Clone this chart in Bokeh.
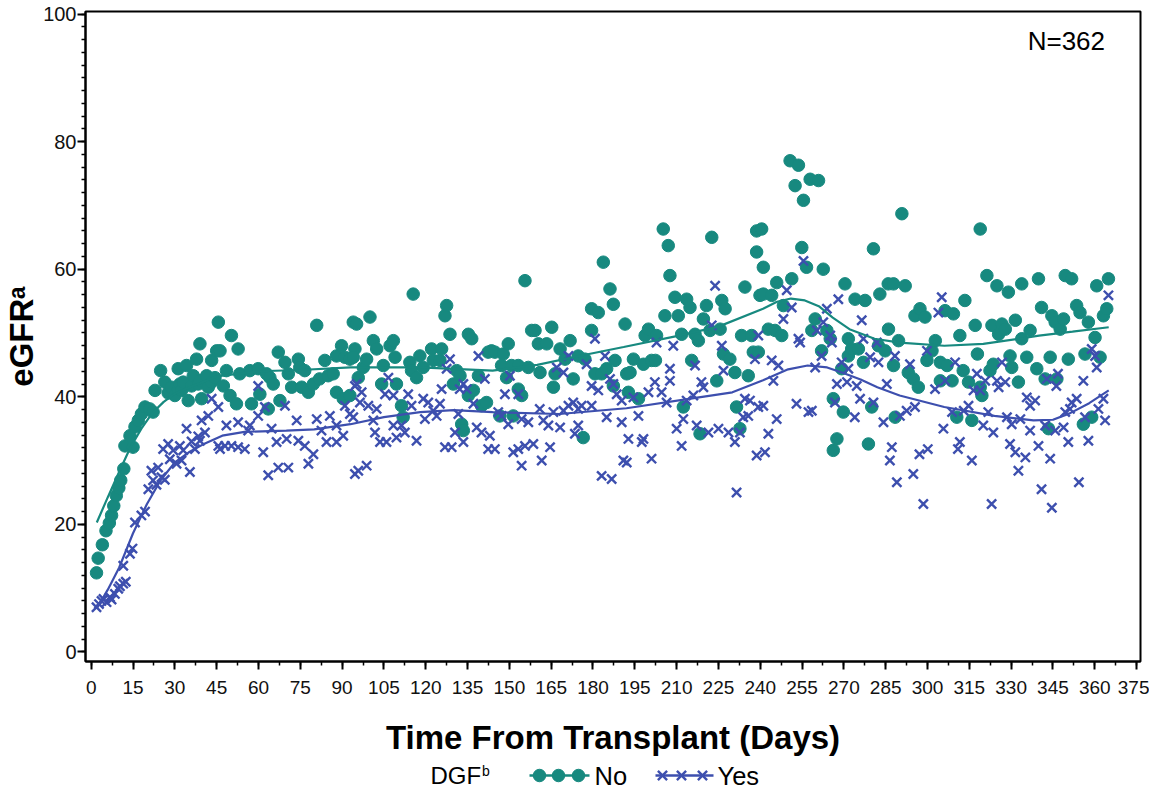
import numpy as np
from bokeh.plotting import figure
from bokeh.models import Range1d, FixedTicker, Label
from bokeh.layouts import column
from bokeh.embed import file_html
from bokeh.resources import INLINE
from bokeh.core.properties import value

# ---------------- data ----------------
no_pts = [
    (1.9,12.4),(2.5,14.7),(4.0,16.8),(5.3,19.0),(6.5,20.2),(7.3,21.4),(8.1,22.9),(9.0,24.5),(9.9,25.7),(10.6,26.9),
    (11.7,28.7),(12.1,32.3),(13.9,33.9),(15.0,32.1),(15.7,35.3),(16.9,36.3),(18.0,37.3),(19.3,38.4),(21.0,38.1),(22.2,37.6),
    (22.9,41.0),(24.9,44.1),(26.4,42.3),(27.6,40.6),(28.8,41.5),(30.0,40.2),(31.2,44.4),(31.2,41.2),(31.8,42.0),(32.4,41.0),
    (33.0,42.3),(34.2,44.9),(34.8,39.4),(36.0,41.7),(36.6,43.3),(37.8,45.9),(38.4,42.0),(39.0,48.3),(39.0,42.5),(39.6,39.7),
    (41.4,43.3),(42.0,41.5),(43.2,45.7),(43.2,42.3),(44.4,43.0),(45.0,47.2),(45.6,51.7),
    (46.2,47.2),(47.4,41.7),(48.5,44.1),(49.8,40.2),(50.3,49.6),(52.1,38.9),(52.7,47.5),(53.3,43.6),(56.9,44.1),(57.5,38.9),
    (59.9,44.4),(60.5,40.4),(62.9,43.6),(63.5,38.1),(64.1,43.0),(65.3,42.0),(67.1,47.0),(67.7,39.4),(69.5,45.4),(70.7,43.6),
    (71.9,41.5),(74.3,45.9),(74.8,44.6),(75.5,41.5),(76.6,44.1),(77.9,40.7),(79.7,42.0),(80.9,51.2),(81.9,42.8),(83.8,45.7),
    (85.0,43.3),(86.8,43.6),(88.0,46.4),(88.0,40.7),(89.8,48.0),(90.4,39.7),(91.0,46.2),(92.8,45.9),(92.8,40.2),(94.0,51.7),
    (94.6,47.5),(94.0,46.2),(95.2,51.4),(95.8,43.0),(97.6,44.6),(98.8,45.9),(100.0,52.5),(101.2,48.8),(102.4,47.5),(104.2,42.0),
    (104.8,44.9),(107.2,48.0),(108.4,48.8),(109.0,46.2),(109.5,42.0),(111.3,38.6),(111.9,36.8),(114.3,45.4),(114.9,44.1),(115.5,56.1),
    (116.7,43.0),(117.9,46.4),(119.1,44.6),(122.1,47.5),(122.7,45.7),(125.1,45.7),(125.7,47.5),(126.9,52.7),(127.5,54.3),(128.7,49.8),
    (129.9,42.0),(131.1,44.1),(132.3,43.3),(132.9,35.7),(133.5,34.7),(135.3,49.8),(136.5,49.1),(135.3,40.2),(137.1,41.0),(138.9,43.3),
    (140.0,38.6),(141.8,39.1),(143.6,47.2),(142.4,47.0),(144.8,47.0),(146.6,37.0),(147.2,44.9),(147.8,46.7),(149.0,43.0),(149.6,48.3),
    (150.8,44.9),(151.4,37.0),(153.2,44.9),(153.2,41.2),(154.4,40.2),(155.6,58.2),(156.8,44.6),(158.0,50.4),(159.2,50.4),(160.4,48.3),
    (161.0,43.8),(163.4,48.3),(165.2,50.9),(165.8,41.5),(166.4,43.6),(168.2,47.5),(170.0,45.9),(171.8,48.8),(172.9,42.8),(174.7,46.4),
    (176.5,33.6),(177.1,45.9),(179.5,50.4),(179.5,53.8),(180.7,43.6),(181.9,53.2),(183.1,43.6),(183.7,61.1),(184.9,44.4),(186.1,56.9),
    (187.3,54.5),(187.3,41.7),(187.9,45.7),(191.5,51.4),(192.1,43.6),
    (192.7,40.7),(193.3,43.8),(194.5,45.9),(196.3,39.7),(198.1,45.1),(198.7,49.6),(199.9,50.6),(201.0,45.7),(202.4,45.7),(202.8,49.6),
    (205.2,66.3),(205.8,52.7),(207.0,63.7),(207.6,59.0),(209.4,55.6),(210.6,52.7),(211.8,49.8),(212.4,38.4),(213.6,55.3),(214.8,54.0),
    (215.4,45.7),(216.6,49.8),(217.8,48.8),(218.4,34.2),(219.6,52.2),(220.7,54.3),(222.0,50.4),(222.6,65.0),(224.4,42.5),(225.6,50.6),
    (226.2,55.1),(226.8,46.7),(227.4,53.8),(229.1,45.9),(230.9,43.8),(231.5,38.4),(232.7,35.0),(233.3,49.6),(234.5,57.2),(235.7,43.3),
    (236.9,49.6),(237.5,47.0),(238.7,66.0),(238.7,62.7),(239.9,55.9),(241.1,60.3),
    (239.3,47.0),(240.5,66.3),(241.1,56.1),(242.9,50.6),(244.1,55.9),(245.3,50.4),(245.9,57.9),(247.7,49.6),(248.3,54.3),(250.7,77.0),
    (251.3,58.5),(252.5,73.1),(253.7,76.3),(254.9,63.4),(255.5,70.8),(256.6,60.3),(257.9,74.1),(258.5,50.4),(259.7,52.2),(260.9,73.9),
    (262.0,47.2),(262.6,60.0),(263.9,50.4),(265.1,49.1),(266.2,39.7),(266.2,31.6),(267.5,33.4),(269.2,44.4),(269.8,37.6),(270.4,57.7),
    (271.6,49.1),(271.6,46.4),(272.8,47.5),(274.0,55.3),(275.2,47.5),(277.0,45.4),(277.6,55.1),(278.8,32.6),(280.0,38.4),(280.6,63.2),
    (282.4,48.0),(282.9,56.1),(284.8,47.2),(285.9,57.7),(286.0,50.6),
    (287.8,57.7),(292.0,57.4),(290.8,68.7),(289.6,48.8),(287.8,44.9),(288.4,36.8),(293.1,43.8),(294.9,42.8),(295.5,52.7),(296.7,41.5),
    (297.3,53.8),(299.1,52.5),(299.8,45.7),(301.6,47.2),(302.8,48.8),(304.6,45.4),(304.6,42.5),(306.3,53.5),(307.0,44.9),(308.8,42.5),
    (309.3,53.0),(310.5,36.8),(311.6,49.6),(312.8,44.1),(313.4,55.1),(314.7,42.3),(315.9,36.3),(317.1,51.2),(317.9,46.7),(318.9,66.3),
    (318.9,41.5),(319.5,40.2),(321.3,59.0),(322.4,44.1),(323.1,51.2),(323.6,45.1),(324.9,57.4),(325.5,49.8),(326.7,51.4),(327.9,50.6),
    (329.0,56.4),(329.6,46.4),(330.2,44.6),(331.5,52.0),(332.6,42.3),(333.8,57.7),(333.8,49.1),(335.6,46.2),(336.8,50.4),
    (339.2,44.4),(339.8,58.5),(340.9,54.0),(342.2,42.8),(343.4,35.0),(344.0,46.2),(344.6,52.7),(345.8,51.7),(346.4,42.8),(347.6,50.6),
    (348.8,52.2),(349.4,59.0),(350.5,45.9),(351.7,58.5),(353.5,54.3),(354.7,53.2),(355.9,35.7),(356.5,46.7),(357.7,51.7),(358.9,36.8),
    (360.1,49.3),(360.7,57.4),(361.9,46.2),(363.1,52.7),(364.3,53.8),(364.9,58.5),
]

yes_pts = [
    (1.9,7.0),(2.8,7.5),(3.7,8.0),(4.4,8.3),(5.5,7.8),(6.7,8.6),(7.3,8.2),(8.5,9.1),(9.7,9.9),(10.3,10.3),
    (11.5,10.7),(11.5,13.5),(12.4,11.0),(13.9,15.4),(14.8,16.2),(15.7,20.3),(18.0,21.4),(19.3,22.0),(20.5,25.5),(21.6,28.4),
    (22.2,26.9),(23.4,26.2),(24.0,28.9),(25.2,27.4),(25.8,31.8),(26.4,27.0),(27.6,32.6),(28.2,30.2),(29.4,31.6),(30.6,29.5),
    (31.8,32.3),(32.4,30.0),(33.0,31.6),(34.2,35.0),(35.4,28.2),(36.0,33.0),(37.2,31.8),(38.4,33.8),(39.0,33.1),(39.6,36.3),
    (40.8,34.4),(42.0,37.0),(43.2,39.7),(45.6,38.4),(46.2,31.8),
    (45.6,32.3),(48.0,32.3),(48.5,35.5),(50.3,32.3),(52.7,36.0),(52.7,32.1),(55.1,31.8),(56.3,34.7),(56.9,35.5),(59.9,37.0),
    (59.9,41.7),(61.7,31.3),(62.3,38.4),(63.5,27.7),(64.7,35.0),(66.5,32.9),(67.1,28.9),(69.5,38.6),(70.1,33.4),(70.7,28.9),
    (73.7,36.3),(74.3,33.1),(76.6,32.3),(77.9,29.5),(79.7,31.0),(80.9,36.5),(82.6,34.7),(84.4,32.9),(85.6,37.0),(88.0,35.5),
    (88.0,32.9),(90.4,33.9),(91.0,38.6),(92.8,37.3),(94.6,27.9),(94.6,41.7),
    (94.0,36.8),(95.2,42.0),(95.8,28.4),(96.4,39.1),(97.0,40.7),(98.8,29.2),(99.4,38.6),(101.2,36.3),(101.8,34.4),(102.4,38.1),
    (103.6,32.9),(105.4,40.4),(105.9,32.9),(106.6,43.0),(108.4,40.2),(108.4,35.5),(109.5,33.6),(111.3,35.5),(112.5,34.4),(113.7,40.4),
    (114.9,38.6),(116.7,33.1),(119.1,39.7),(119.7,36.5),(120.9,39.1),(122.7,37.8),(123.9,37.0),(125.1,38.9),(125.7,41.2),(126.9,32.1),
    (127.5,44.4),(128.7,45.9),(129.3,32.1),(130.5,34.4),(131.7,37.3),(132.2,41.2),(133.5,42.0),(133.5,32.9),(134.7,41.2),(137.1,38.9),
    (138.3,35.2),(138.9,46.4),(140.0,34.4),(141.2,42.8),(142.4,31.8),
    (143.0,33.9),(144.8,31.8),(146.0,37.6),(147.2,37.0),(148.4,40.4),(149.6,35.7),(150.2,43.3),(151.4,31.3),(153.2,40.4),(153.2,31.8),
    (154.4,36.5),(154.4,29.2),(155.6,32.3),(156.8,36.0),(158.6,32.6),(160.9,38.1),(161.6,30.0),(162.2,36.3),(164.0,35.5),(164.6,32.1),
    (165.8,37.6),(167.0,44.6),(168.2,35.2),(169.4,43.8),(169.4,37.8),(171.2,46.4),(171.2,38.6),(172.9,39.1),(173.5,34.2),(174.7,38.1),
    (174.7,35.5),(175.9,38.6),(177.7,45.1),(179.5,41.7),(179.5,38.6),(180.7,49.1),(181.9,41.0),(183.1,27.6),(184.3,46.4),(184.9,36.8),
    (186.1,42.8),(186.7,27.1),(187.3,42.0),(188.5,40.4),(190.3,39.4),(190.3,36.0),(190.9,30.0),
    (192.1,29.7),(192.7,33.4),(194.5,39.9),(196.3,37.0),(197.5,32.9),(198.1,33.4),(199.9,40.7),(201.0,30.3),(202.2,42.3),(202.8,48.5),
    (204.6,40.7),(206.4,39.1),(207.6,44.4),(207.6,42.5),(208.8,48.0),(210.0,35.0),(211.8,32.3),(212.4,36.5),(213.6,39.4),(216.0,40.2),
    (216.6,44.9),(217.2,35.5),(218.9,42.3),(219.6,41.5),(221.4,34.4),(222.6,51.2),(223.8,57.4),(225.0,35.0),(226.2,48.0),(226.8,44.1),
    (228.6,34.4),(230.9,32.9),(231.5,25.0),(232.7,34.4),(233.9,36.8),(234.5,39.7),(235.7,37.0),(236.3,39.4),(238.1,45.9),(238.7,30.8),
    (239.3,38.4),(239.3,49.6),
    (241.1,38.6),(241.7,31.3),(242.9,34.2),(244.1,45.7),(244.7,42.5),(245.9,36.5),(246.5,44.9),(248.3,52.2),(249.5,56.7),(251.3,54.0),
    (253.0,38.9),(253.7,49.1),(254.3,48.5),(255.5,61.3),(257.3,37.6),(258.5,37.8),(259.7,44.6),(260.3,50.4),(262.0,46.4),(262.6,51.7),
    (263.9,53.8),(265.1,49.6),(265.7,48.5),(266.8,39.1),(267.5,42.0),(268.0,55.3),(269.2,45.4),(271.1,42.3),(271.6,44.4),(273.9,36.8),
    (274.6,41.7),(275.8,39.7),(276.4,52.0),(277.0,49.1),(279.4,46.2),(280.6,39.1),(281.8,48.5),(282.4,45.4),(284.2,36.0),(285.4,42.0),
    (286.5,30.0),(287.2,32.1),(288.3,46.4),(289.0,26.6),
    (290.1,37.0),(292.5,37.8),(293.7,45.1),(294.9,27.9),(295.5,38.4),(297.1,31.0),(298.5,23.2),(299.8,47.2),(300.1,31.8),(302.7,41.2),
    (303.9,53.2),(305.1,55.6),(305.7,35.0),(306.3,42.5),(308.8,37.6),(309.9,45.4),(310.9,31.8),(311.6,32.9),(313.0,37.8),(314.7,38.6),
    (315.9,30.0),(316.5,41.0),(317.7,43.6),(318.9,41.0),(320.0,35.5),(320.7,42.5),(321.8,37.6),(323.0,23.2),(323.6,34.4),(324.9,42.5),
    (325.5,41.5),(326.7,45.4),(327.9,42.3),(328.5,36.8),(329.6,32.6),(330.2,35.7),(331.5,31.3),(332.6,28.4),(333.3,36.5),(335.1,30.5),
    (335.6,39.9),(336.8,38.6),
    (336.8,34.7),(338.6,39.4),(339.8,32.3),(340.9,25.5),(342.2,35.5),(342.8,42.8),(344.0,30.3),(344.6,22.6),(345.8,34.7),(346.2,41.7),
    (346.8,43.6),(348.8,35.2),(349.4,37.6),(350.5,32.9),(351.1,38.1),(351.7,39.1),(353.5,39.7),(354.3,26.6),(355.9,42.5),(356.5,36.8),
    (357.7,33.1),(358.9,47.5),(360.1,46.4),(360.7,44.6),(361.3,38.1),(363.1,39.7),(363.7,36.3),(364.9,55.9),
]

no_curve_days = [2, 6, 10, 14, 18, 22, 26, 30, 36, 45, 60, 75, 93, 118, 144, 160, 175, 191, 210, 225, 241, 246, 251,
                 256, 261, 266, 272, 281, 290, 306, 320, 333, 340, 352, 365]
no_curve_vals = [20.3, 24.3, 28.2, 32.0, 35.0, 37.5, 39.2, 40.5, 41.6, 43.2, 44.0, 44.2, 44.6, 44.6, 44.1, 45.0, 46.4, 47.8,
                 49.5, 51.0, 53.8, 54.9, 55.4, 55.1, 54.2, 52.4, 50.6, 49.1, 48.5, 48.0, 48.3, 49.1, 49.6, 50.2, 50.9]

yes_curve_days = [2, 6, 10, 15, 20, 25, 30, 35, 40, 47, 55, 70, 80, 93, 105, 118, 130, 144, 168, 192, 215, 230, 241, 250,
                  257, 264, 270, 276, 282, 290, 306, 324, 338, 345, 351, 358, 365]
yes_curve_vals = [6.8, 9.8, 13.2, 18.6, 23.2, 27.0, 29.7, 31.3, 32.5, 33.9, 34.5, 34.7, 34.9, 35.7, 36.8, 37.6, 37.9, 37.6,
                  37.3, 38.2, 39.7, 40.7, 42.6, 44.3, 44.9, 44.6, 43.7, 42.7, 41.5, 40.2, 38.4, 37.0, 36.3, 36.4, 37.4,
                  39.0, 41.0]

x_ticks = [0, 15, 30, 45, 60, 75, 90, 105, 120, 135, 150, 165, 180, 195, 210, 225, 240, 255, 270, 285, 300, 315,
           330, 345, 360, 375]
y_ticks = [0, 20, 40, 60, 80, 100]

legend_title = "DGF"
legend_title_sup = "b"
legend_labels = ["No", "Yes"]
n_text = "N=362"

# ---------------- styling ----------------
TEAL = "#17897f"
BLUE = "#3d4fae"
FONT = "Liberation Sans"
BL, BR, FW = 79, 9, 1055

p = figure(frame_width=FW, frame_height=650,
           x_range=Range1d(-2.05, 376.4), y_range=Range1d(-1.5, 100.4),
           output_backend="svg", toolbar_location=None,
           min_border_left=BL, min_border_right=BR, min_border_top=11, min_border_bottom=99)
p.grid.visible = False
p.outline_line_color = "black"
p.outline_line_width = 2
p.outline_line_alpha = 1

no_x = [d for d, v in no_pts]
no_y = [v for d, v in no_pts]
yes_x = [d for d, v in yes_pts]
yes_y = [v for d, v in yes_pts]

p.scatter(no_x, no_y, marker="circle", size=12.5, fill_color=TEAL, line_color=TEAL)
p.scatter(yes_x, yes_y, marker="x", size=13, line_color=BLUE, line_width=2.4)
p.line(no_curve_days, no_curve_vals, line_color=TEAL, line_width=2.2)
p.line(yes_curve_days, yes_curve_vals, line_color=BLUE, line_width=2.2)

minor_x = [t / 2 for t in range(0, 2 * 376, 15)]
p.xaxis.ticker = FixedTicker(ticks=x_ticks, minor_ticks=minor_x)
p.yaxis.ticker = FixedTicker(ticks=y_ticks, minor_ticks=list(range(0, 101, 2)))

for ax in (p.xaxis[0], p.yaxis[0]):
    ax.axis_line_width = 2
    ax.axis_line_color = "black"
    ax.major_tick_out = 8
    ax.major_tick_in = 0
    ax.minor_tick_out = 4
    ax.minor_tick_in = 0
    ax.major_tick_line_width = 2
    ax.minor_tick_line_width = 1.5
    ax.major_tick_line_color = "black"
    ax.minor_tick_line_color = "black"
    ax.major_label_text_font = FONT
    ax.major_label_text_color = "#111111"
    ax.axis_label_text_font = FONT
    ax.axis_label_text_font_style = "bold"
    ax.axis_label_text_color = "black"
    ax.axis_label_text_font_size = "33px"

p.xaxis.major_label_text_font_size = "19px"
p.yaxis.major_label_text_font_size = "20px"
p.xaxis.major_label_standoff = 11
p.yaxis.major_label_standoff = 1
p.xaxis.axis_label = "Time From Transplant (Days)"
p.yaxis.axis_label = "eGFR\u1d43"
p.xaxis.axis_label_standoff = 22
p.yaxis.axis_label_standoff = 0

p.add_layout(Label(x=349.8, y=95.8, text=n_text, text_font=FONT, text_font_size="26px",
                   text_align="center", text_baseline="middle", text_color="black"))

# ---------------- legend strip (x in page pixels, frame aligned with the plot frame) ----------------
LH = 30
leg = figure(frame_width=FW, frame_height=LH, x_range=Range1d(8 + BL, 8 + BL + FW), y_range=Range1d(0, LH),
             output_backend="svg", toolbar_location=None,
             min_border_left=BL, min_border_right=BR, min_border_top=0, min_border_bottom=0,
             x_axis_type=None, y_axis_type=None)
leg.grid.visible = False
leg.outline_line_color = None
yc = LH / 2
leg.text(x=[432], y=[yc], text=[legend_title], text_font=value(FONT), text_font_size="24px",
         text_baseline="middle", text_align="left", text_color="black")
leg.text(x=[483.5], y=[yc + 5], text=[legend_title_sup], text_font=value(FONT), text_font_size="14px",
         text_baseline="middle", text_align="left", text_color="black")

x0 = 531
leg.line([x0, x0 + 60], [yc, yc], line_color=TEAL, line_width=2.5)
leg.scatter([x0 + 10, x0 + 29, x0 + 49], [yc] * 3, marker="circle", size=12.5, fill_color=TEAL, line_color=TEAL)
leg.text(x=[x0 + 65], y=[yc], text=[legend_labels[0]], text_font=value(FONT), text_font_size="25.5px",
         text_baseline="middle", text_align="left", text_color="black")
x1 = 657
leg.line([x1, x1 + 58], [yc, yc], line_color=BLUE, line_width=2.5)
leg.scatter([x1 + 7, x1 + 26, x1 + 47], [yc] * 3, marker="x", size=13, line_color=BLUE, line_width=2.4)
leg.text(x=[x1 + 62], y=[yc], text=[legend_labels[1]], text_font=value(FONT), text_font_size="25.5px",
         text_baseline="middle", text_align="left", text_color="black")

layout = column(p, leg, spacing=0)
open("out.html", "w").write(file_html(layout, INLINE))
